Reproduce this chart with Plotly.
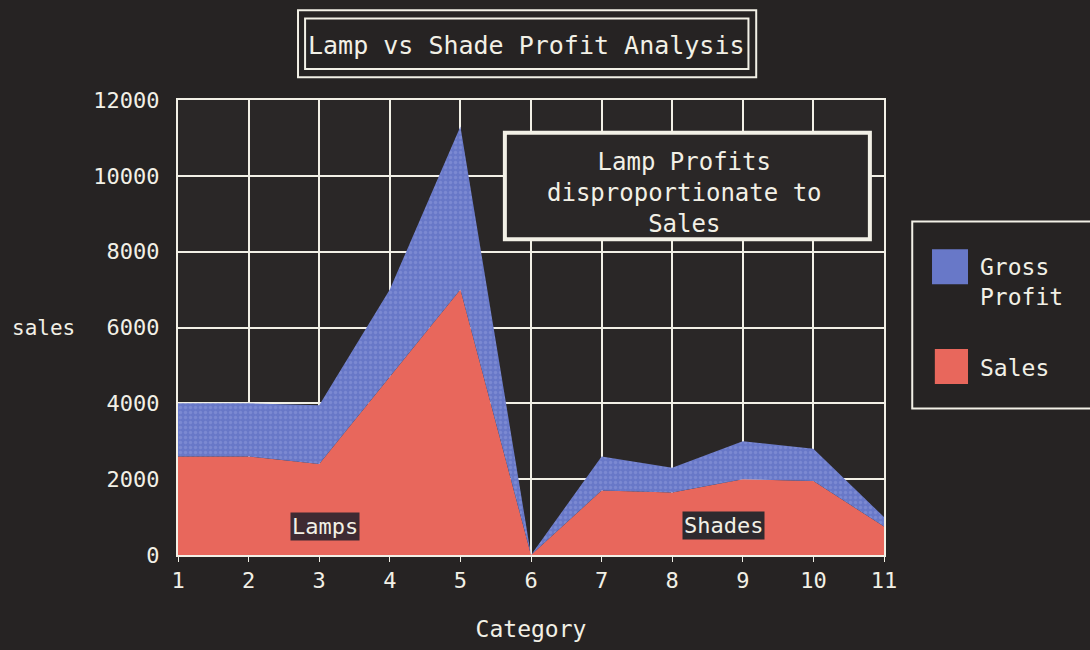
import plotly.graph_objects as go

categories = [1, 2, 3, 4, 5, 6, 7, 8, 9, 10, 11]
sales = [2600, 2600, 2400, 4700, 7000, 0, 1700, 1650, 2000, 1950, 750]
gross_profit = [1400, 1400, 1550, 2300, 4300, 0, 900, 650, 1000, 850, 250]
y_ticks = [0, 2000, 4000, 6000, 8000, 10000, 12000]
y_tick_labels = ["0", "2000", "4000", "6000", "8000", "10000", "12000"]
x_ticks = categories

FONT = "DejaVu Sans Mono"
TXT = "#f2f0e6"
BG = "#262323"
RED = "#e8675c"
BLUE = "#6878c8"

fig = go.Figure()
fig.add_trace(go.Scatter(
    x=categories, y=sales, name="Sales", mode="lines", stackgroup="one",
    line=dict(width=0, color=RED), fillcolor=RED, showlegend=False, hoverinfo="skip"))
fig.add_trace(go.Scatter(
    x=categories, y=gross_profit, name="Gross Profit", mode="lines", stackgroup="one",
    line=dict(width=0, color=BLUE), fillcolor=BLUE,
    fillpattern=dict(shape=".", bgcolor=BLUE, fgcolor="#8d99dc", size=5, solidity=0.35),
    showlegend=False, hoverinfo="skip"))

shapes = []
# title double box
shapes.append(dict(type="rect", xref="paper", yref="paper", x0=0.170, x1=0.819, y0=1.050, y1=1.197,
                   line=dict(color=TXT, width=2), fillcolor=BG))
shapes.append(dict(type="rect", xref="paper", yref="paper", x0=0.180, x1=0.808, y0=1.068, y1=1.179,
                   line=dict(color=TXT, width=2)))
# callout box
shapes.append(dict(type="rect", xref="paper", yref="paper", x0=0.463, x1=0.980, y0=0.694, y1=0.928,
                   line=dict(color=TXT, width=4), fillcolor="#2a2727", layer="above"))
# legend box
shapes.append(dict(type="rect", xref="paper", yref="paper", x0=1.040, x1=1.31, y0=0.322, y1=0.733,
                   line=dict(color=TXT, width=2), fillcolor=BG))
shapes.append(dict(type="rect", xref="paper", yref="paper", x0=1.068, x1=1.119, y0=0.595, y1=0.672,
                   line=dict(width=0), fillcolor=BLUE))
shapes.append(dict(type="rect", xref="paper", yref="paper", x0=1.072, x1=1.119, y0=0.376, y1=0.453,
                   line=dict(width=0), fillcolor=RED))

annotations = [
    dict(text="Lamp vs Shade Profit Analysis", xref="paper", yref="paper", x=0.494, y=1.120,
         xanchor="center", yanchor="middle",
         showarrow=False, font=dict(family=FONT, size=25, color=TXT)),
    dict(text="Lamp Profits<br>disproportionate to<br>Sales", xref="paper", yref="paper",
         x=0.718, y=0.795, xanchor="center", yanchor="middle", showarrow=False, align="center",
         font=dict(family=FONT, size=24, color=TXT)),
    dict(text="Lamps", x=3.08, y=740, showarrow=False, bgcolor="#3e2a32",
         xanchor="center", yanchor="middle",
         font=dict(family=FONT, size=22, color=TXT)),
    dict(text="Shades", x=8.73, y=790, showarrow=False, bgcolor="#2e2a2e",
         xanchor="center", yanchor="middle",
         font=dict(family=FONT, size=22, color=TXT)),
    dict(text="Gross<br>Profit", xref="paper", yref="paper", x=1.133, y=0.600, xanchor="left",
         yanchor="middle", showarrow=False, align="left", font=dict(family=FONT, size=23, color=TXT)),
    dict(text="Sales", xref="paper", yref="paper", x=1.133, y=0.41, xanchor="left",
         yanchor="middle", showarrow=False, align="left", font=dict(family=FONT, size=23, color=TXT)),
    dict(text="sales", xref="paper", yref="paper", x=-0.238, y=0.5, xanchor="left",
         yanchor="middle", showarrow=False, font=dict(family=FONT, size=21, color=TXT)),
]

fig.update_layout(
    width=1090, height=650,
    margin=dict(l=178, r=206, t=100, b=93),
    paper_bgcolor=BG, plot_bgcolor="#2a2727",
    font=dict(family=FONT, color=TXT, size=22),
    shapes=shapes, annotations=annotations,
    xaxis=dict(range=[1, 11], tickvals=x_ticks, showgrid=True, gridcolor=TXT, gridwidth=2,
               showline=True, linecolor=TXT, linewidth=2, mirror=True, zeroline=False,
               ticks="outside", ticklen=5, tickcolor=TXT, tickfont=dict(size=22),
               title=dict(text="Category", font=dict(family=FONT, size=23, color=TXT), standoff=28)),
    yaxis=dict(range=[0, 12000], tickvals=y_ticks, ticktext=y_tick_labels,
               showgrid=True, gridcolor=TXT, gridwidth=2,
               showline=True, linecolor=TXT, linewidth=2, mirror=True, zeroline=False,
               ticks="", ticklabelstandoff=12, tickfont=dict(size=22)),
)

fig.write_html("out.html", config={"displayModeBar": False},
               post_script="document.body.style.margin='0';document.body.style.overflow='hidden';")
